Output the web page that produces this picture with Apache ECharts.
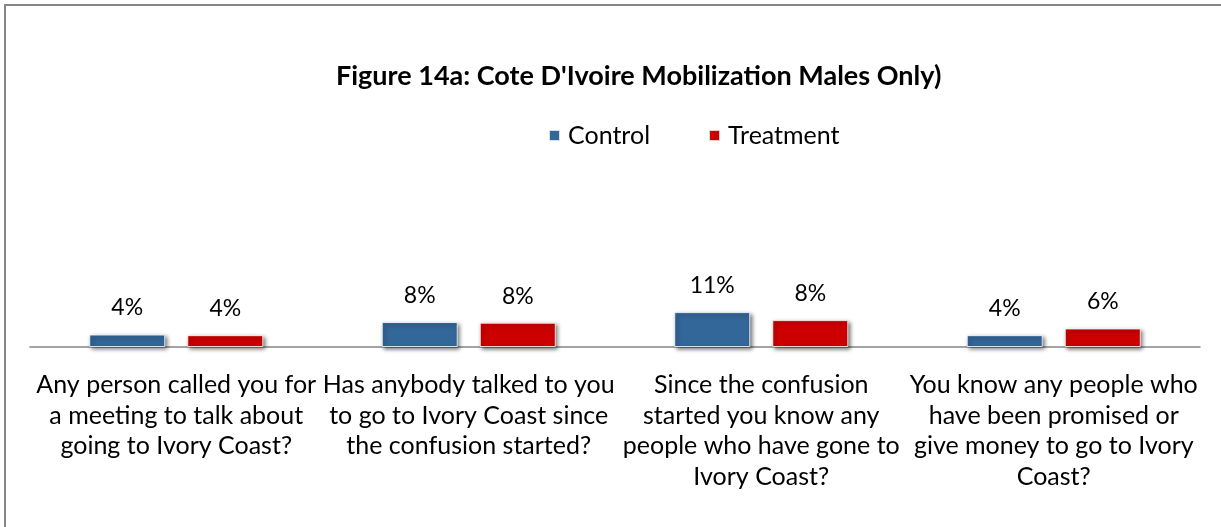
<!DOCTYPE html>
<html>
<head>
<meta charset="utf-8">
<script src="https://cdn.jsdelivr.net/npm/echarts@6/dist/echarts.min.js"></script>
<style>
  html, body { margin: 0; padding: 0; background: #fff; }
  #chart { width: 1221px; height: 527px; }
</style>
</head>
<body>
<div id="chart"></div>
<script>
// 分类（按参考图换行）
const categories = [
  'Any person called you for\na meeting to talk about\ngoing to Ivory Coast?',
  'Has anybody talked to you\nto go to Ivory Coast since\nthe confusion started?',
  'Since the confusion\nstarted you know any\npeople who have gone to\nIvory Coast?',
  'You know any people who\nhave been promised or\ngive money to go to Ivory\nCoast?'
]
const controlValues = [3.9, 7.8, 10.9, 3.7]
const treatmentValues = [3.7, 7.6, 8.4, 5.8]

const FONT = 'Lato'

const chart = echarts.init(document.getElementById('chart'))

// 柱子样式（带阴影）
const barStyle = (color) => ({
  color: color,
  borderColor: 'rgba(255,255,255,0.8)',
  borderWidth: 1,
  shadowColor: 'rgba(0,0,0,0.55)',
  shadowBlur: 4,
  shadowOffsetX: 2,
  shadowOffsetY: 2
})

const barLabel = {
  show: true,
  position: 'top',
  distance: 15,
  fontFamily: FONT,
  fontSize: 23,
  color: '#000',
  formatter: p => Math.round(p.value) + '%'
}

chart.setOption({
  animation: false,
  graphic: [{
    type: 'rect',
    shape: { x: 5, y: 5, width: 1400, height: 700 },
    style: { fill: 'none', stroke: '#868686', lineWidth: 2 },
    silent: true
  }],
  title: {
    text: "Figure 14a: Cote D'Ivoire Mobilization Males Only)",
    left: 331,
    top: 58,
    textStyle: {
      fontFamily: FONT,
      fontWeight: 'bold',
      fontSize: 27,
      color: '#000'
    }
  },
  legend: {
    data: ['Control', 'Treatment'],
    top: 118,
    left: 543,
    itemWidth: 11,
    itemHeight: 11,
    itemGap: 58,
    icon: 'rect',
    textStyle: {
      fontFamily: FONT,
      fontSize: 25,
      color: '#000',
      padding: [0, 0, 0, 3]
    }
  },
  grid: {
    left: 30,
    right: 21,
    top: 187,
    bottom: 180
  },
  xAxis: {
    type: 'category',
    data: categories,
    axisLine: { lineStyle: { color: '#868686', width: 1.5 } },
    axisTick: { show: false },
    axisLabel: {
      interval: 0,
      margin: 23,
      fontFamily: FONT,
      fontSize: 25,
      lineHeight: 30.5,
      color: '#000',
      align: 'center'
    }
  },
  yAxis: {
    type: 'value',
    min: 0,
    max: 50,
    show: false,
    splitLine: { show: false }
  },
  series: [
    {
      name: 'Control',
      type: 'bar',
      barWidth: 76,
      barGap: '29%',
      itemStyle: barStyle('#336699'),
      label: barLabel,
      data: controlValues
    },
    {
      name: 'Treatment',
      type: 'bar',
      barWidth: 76,
      itemStyle: barStyle('#CC0000'),
      label: barLabel,
      data: treatmentValues
    }
  ]
})
</script>
</body>
</html>
